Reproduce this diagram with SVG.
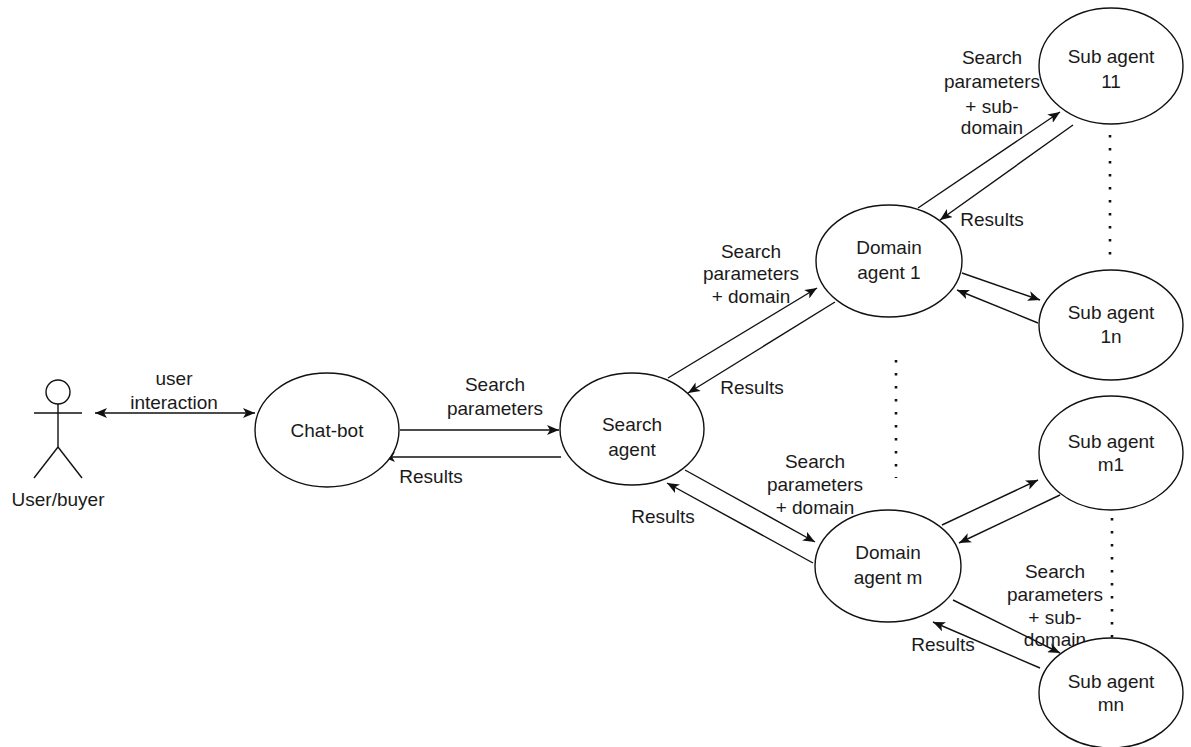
<svg xmlns="http://www.w3.org/2000/svg" width="1191" height="747" viewBox="0 0 1191 747">
<style>
.n{fill:#fff;stroke:#111;stroke-width:1.4}
.t{font-family:"Liberation Sans",Arial,sans-serif;font-size:19px;fill:#1a1a1a;text-anchor:middle}
.c{stroke:#111;stroke-width:1.4;fill:none}
.a{marker-end:url(#ah)}
.b{marker-start:url(#ah);marker-end:url(#ah)}
.d{stroke:#111;stroke-width:2.6;stroke-dasharray:2.6 10.4;fill:none}
</style>
<defs>
<marker id="ah" viewBox="0 0 12 10" refX="12" refY="5" markerWidth="12" markerHeight="10" markerUnits="userSpaceOnUse" orient="auto-start-reverse">
<path d="M0,0 L12,5 L0,10 L3,5 z" fill="#111"/>
</marker>
</defs>
<rect width="1191" height="747" fill="#fff"/>

<g id="connectors">
<line class="c b" x1="95" y1="413" x2="255" y2="413"/>
<line class="c a" x1="400" y1="430" x2="559" y2="430"/>
<line class="c a" x1="561" y1="457" x2="383" y2="457"/>
<line class="c a" x1="668" y1="378" x2="817" y2="288"/>
<line class="c a" x1="835" y1="302" x2="688" y2="393"/>
<line class="c a" x1="685" y1="470" x2="815" y2="542"/>
<line class="c a" x1="813" y1="563" x2="667" y2="483"/>
<line class="c a" x1="918" y1="208" x2="1060" y2="112"/>
<line class="c a" x1="1073" y1="125" x2="940" y2="220"/>
<line class="c a" x1="962" y1="273" x2="1040" y2="300"/>
<line class="c a" x1="1038" y1="323" x2="957" y2="290"/>
<line class="c a" x1="942" y1="525" x2="1038" y2="480"/>
<line class="c a" x1="1060" y1="495" x2="959" y2="543"/>
<line class="c a" x1="953" y1="600" x2="1060" y2="653"/>
<line class="c a" x1="1040" y1="668" x2="933" y2="622"/>
<line class="d" x1="1110" y1="135" x2="1110" y2="255"/>
<line class="d" x1="896" y1="360" x2="896" y2="478"/>
<line class="d" x1="1112" y1="518" x2="1112" y2="640"/>
<text class="t" x="174" y="385">user</text>
<text class="t" x="174" y="409">interaction</text>
<text class="t" x="495" y="391">Search</text>
<text class="t" x="495" y="415">parameters</text>
<text class="t" x="431" y="483">Results</text>
<text class="t" x="751" y="258">Search</text>
<text class="t" x="751" y="280">parameters</text>
<text class="t" x="751" y="303">+ domain</text>
<text class="t" x="752" y="394">Results</text>
<text class="t" x="815" y="468">Search</text>
<text class="t" x="815" y="491">parameters</text>
<text class="t" x="815" y="514">+ domain</text>
<text class="t" x="663" y="523">Results</text>
<text class="t" x="992" y="64">Search</text>
<text class="t" x="992" y="88">parameters</text>
<text class="t" x="992" y="113">+ sub-</text>
<text class="t" x="992" y="134">domain</text>
<text class="t" x="992" y="226">Results</text>
<text class="t" x="1055" y="578">Search</text>
<text class="t" x="1055" y="601">parameters</text>
<text class="t" x="1055" y="624">+ sub-</text>
<text class="t" x="1055" y="646">domain</text>
<text class="t" x="943" y="651">Results</text>
</g>

<g id="user">
<circle cx="58" cy="392" r="12" fill="#fff" stroke="#111" stroke-width="1.4"/>
<line class="c" x1="58" y1="404" x2="58" y2="447"/>
<line class="c" x1="34" y1="413" x2="82" y2="413"/>
<line class="c" x1="58" y1="447" x2="34" y2="478"/>
<line class="c" x1="58" y1="447" x2="82" y2="478"/>
<text class="t" x="58" y="506">User/buyer</text>
</g>

<g id="chatbot">
<ellipse class="n" cx="327" cy="430" rx="72" ry="57"/>
<text class="t" x="327" y="437">Chat-bot</text>
</g>

<g id="search-agent">
<ellipse class="n" cx="632" cy="429" rx="72" ry="56"/>
<text class="t" x="632" y="431">Search</text>
<text class="t" x="632" y="456">agent</text>
</g>

<g id="domain-agent-1">
<ellipse class="n" cx="889" cy="261" rx="73" ry="56"/>
<text class="t" x="889" y="254">Domain</text>
<text class="t" x="889" y="279">agent 1</text>
</g>

<g id="domain-agent-m">
<ellipse class="n" cx="888" cy="566" rx="73" ry="56"/>
<text class="t" x="888" y="559">Domain</text>
<text class="t" x="888" y="584">agent m</text>
</g>

<g id="sub-agent-11">
<ellipse class="n" cx="1111" cy="66" rx="72" ry="58"/>
<text class="t" x="1111" y="63">Sub agent</text>
<text class="t" x="1111" y="88">11</text>
</g>

<g id="sub-agent-1n">
<ellipse class="n" cx="1111" cy="325" rx="72" ry="55"/>
<text class="t" x="1111" y="319">Sub agent</text>
<text class="t" x="1111" y="343">1n</text>
</g>

<g id="sub-agent-m1">
<ellipse class="n" cx="1111" cy="453" rx="72" ry="57"/>
<text class="t" x="1111" y="448">Sub agent</text>
<text class="t" x="1111" y="471">m1</text>
</g>

<g id="sub-agent-mn">
<ellipse class="n" cx="1111" cy="693" rx="72" ry="55"/>
<text class="t" x="1111" y="688">Sub agent</text>
<text class="t" x="1111" y="711">mn</text>
</g>
</svg>
